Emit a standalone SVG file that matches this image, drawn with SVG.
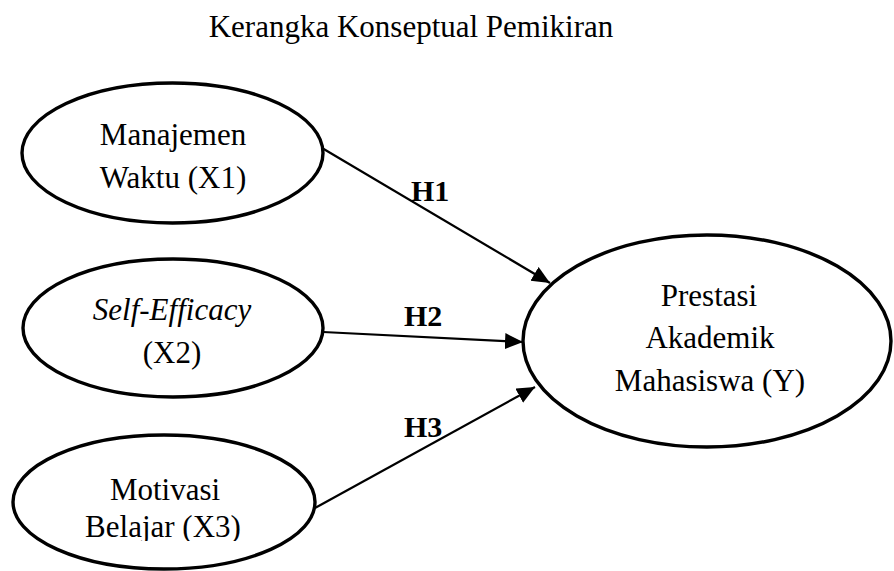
<svg xmlns="http://www.w3.org/2000/svg" width="894" height="571" viewBox="0 0 894 571">
  <style>
    .node { fill: #ffffff; stroke: #000000; stroke-width: 3.4; }
    .lbl { font-family: "Liberation Serif", "Times New Roman", serif; font-size: 31px; fill: #000000; text-anchor: middle; }
    .hyp { font-family: "Liberation Serif", "Times New Roman", serif; font-size: 30px; font-weight: bold; fill: #000000; }
    .edge { stroke: #000000; stroke-width: 2.2; fill: none; marker-end: url(#arrow); }
  </style>
  <defs>
    <marker id="arrow" markerUnits="userSpaceOnUse" markerWidth="19" markerHeight="17" refX="18" refY="8" orient="auto">
      <path d="M0,0 L18,8 L0,16 z" fill="#000000"/>
    </marker>
    <clipPath id="clip3">
      <rect x="0" y="0" width="340" height="541"/>
    </clipPath>
  </defs>
  <rect x="0" y="0" width="894" height="571" fill="#ffffff"/>

  <text id="title" class="lbl" x="411" y="37">Kerangka Konseptual Pemikiran</text>

  <g id="connectors">
    <line class="edge" x1="322" y1="148" x2="550" y2="283"/>
    <line class="edge" x1="323" y1="332" x2="523" y2="342"/>
    <line class="edge" x1="315" y1="508" x2="535" y2="387"/>
    <text class="hyp" x="411" y="201">H1</text>
    <text class="hyp" x="404" y="326">H2</text>
    <text class="hyp" x="404" y="437">H3</text>
  </g>

  <g id="x1">
    <ellipse class="node" cx="172.5" cy="153" rx="150.5" ry="70"/>
    <text class="lbl" x="173" y="145">Manajemen</text>
    <text class="lbl" x="173" y="188">Waktu (X1)</text>
  </g>

  <g id="x2">
    <ellipse class="node" cx="173" cy="328" rx="150" ry="69"/>
    <text class="lbl" x="172" y="320" font-style="italic">Self-Efficacy</text>
    <text class="lbl" x="172" y="363">(X2)</text>
  </g>

  <g id="x3">
    <ellipse class="node" cx="164" cy="502" rx="151" ry="67"/>
    <g clip-path="url(#clip3)">
      <text class="lbl" x="165" y="500">Motivasi</text>
      <text class="lbl" x="163" y="537">Belajar (X3)</text>
    </g>
  </g>

  <g id="y">
    <ellipse class="node" cx="707" cy="341" rx="184" ry="106"/>
    <text class="lbl" x="709" y="306">Prestasi</text>
    <text class="lbl" x="710" y="348">Akademik</text>
    <text class="lbl" x="710" y="391">Mahasiswa (Y)</text>
  </g>
</svg>
